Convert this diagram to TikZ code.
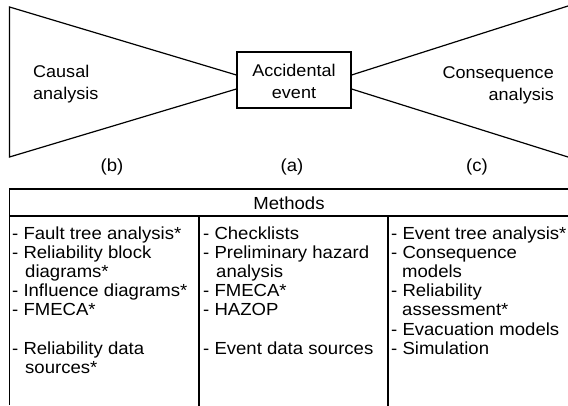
\documentclass[tikz,border=0pt]{standalone}
\usepackage{fontspec}
\setmainfont[FakeStretch=1.06]{Liberation Sans}
\begin{document}
\begin{tikzpicture}[x=1pt,y=-1pt,
  line/.style={line width=1.2pt,black},
  label/.style={inner sep=0pt,font=\fontsize{17}{22}\selectfont},
  item/.style={anchor=base west,inner sep=0pt,font=\fontsize{17.5}{19}\selectfont},
  tag/.style={inner sep=0pt,font=\fontsize{17.5}{19}\selectfont}]
\useasboundingbox (0,0) rectangle (568,406);

% bow-tie: central event box with cause and consequence wedges
\node[draw,line width=1.2pt,minimum width=114pt,minimum height=56pt,inner sep=0pt] (ev) at (294,80) {};
\node[label,anchor=base] (ev1) at (294,77) {Accidental};
\node[label,anchor=base] (ev2) at (294,99) {event};
\coordinate (ltop) at (9.5,7);
\coordinate (lbot) at (9.5,157);
\coordinate (rtop) at (568,6);
\coordinate (rbot) at (568,157);
\draw[line] (ev.west |- 0,75) -- (ltop) -- (lbot) -- (ev.west |- 0,89);
\draw[line] (ev.east |- 0,75) -- (rtop);
\draw[line] (ev.east |- 0,89) -- (rbot);

\node[label,anchor=base west] (ca1) at (33,78) {Causal};
\node[label,anchor=base west] (ca2) at (33,100) {analysis};
\node[label,anchor=base east] (co1) at (554,79) {Consequence};
\node[label,anchor=base east] (co2) at (554,101) {analysis};

\node[tag] (tb) at (112,167) {(b)};
\node[tag] (ta) at (292,167) {(a)};
\node[tag] (tc) at (477,167) {(c)};

% methods table
\draw[line] (9.5,405) -- (9.5,189) -- (568,189);
\draw[line] (9.5,216) -- (568,216);
\draw[line] (199,216) -- (199,406);
\draw[line] (388,216) -- (388,406);
\node[tag] (mh) at (289,203) {Methods};

% column (b)
\node[item] (b1) at (12,240) {- Fault tree analysis*};
\node[item] (b2) at (12,259) {- Reliability block};
\node[item] (b3) at (25,278) {diagrams*};
\node[item] (b4) at (12,297) {- Influence diagrams*};
\node[item] (b5) at (12,316) {- FMECA*};
\node[item] (b6) at (12,354) {- Reliability data};
\node[item] (b7) at (25,373) {sources*};

% column (a)
\node[item] (a1) at (203,240) {- Checklists};
\node[item] (a2) at (203,259) {- Preliminary hazard};
\node[item] (a3) at (216,278) {analysis};
\node[item] (a4) at (203,297) {- FMECA*};
\node[item] (a5) at (203,316) {- HAZOP};
\node[item] (a6) at (203,354) {- Event data sources};

% column (c)
\node[item] (c1) at (391,240) {- Event tree analysis*};
\node[item] (c2) at (391,259) {- Consequence};
\node[item] (c3) at (402,278) {models};
\node[item] (c4) at (391,297) {- Reliability};
\node[item] (c5) at (402,316) {assessment*};
\node[item] (c6) at (391,335) {- Evacuation models};
\node[item] (c7) at (391,354) {- Simulation};
\end{tikzpicture}
\end{document}
